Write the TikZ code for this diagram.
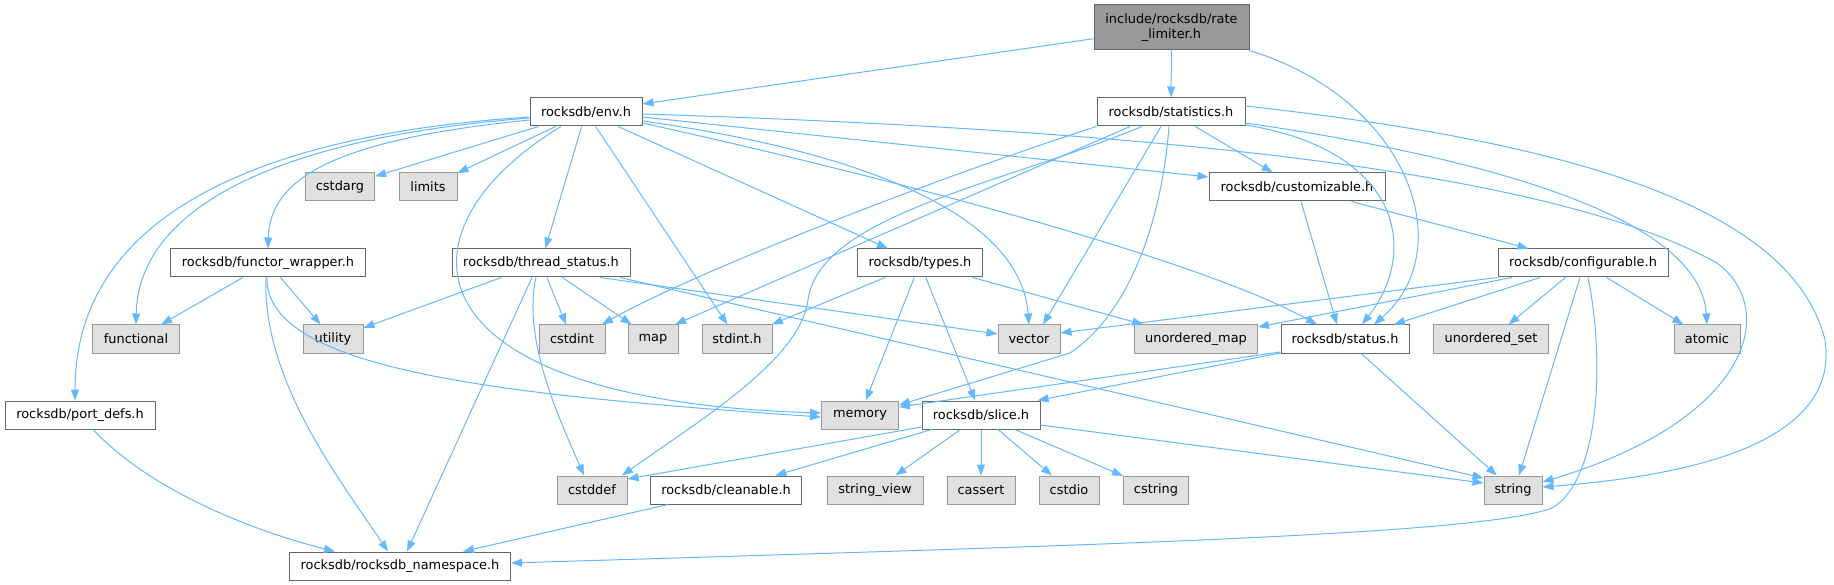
\documentclass[tikz,border=0pt]{standalone}
\usepackage{fontspec}
\setmainfont{DejaVu Sans}
\usetikzlibrary{arrows.meta}
\definecolor{edgec}{HTML}{63B8FF}
\definecolor{bproj}{HTML}{666666}
\definecolor{bsys}{HTML}{999999}
\definecolor{fsys}{HTML}{E0E0E0}
\definecolor{froot}{HTML}{999999}
\tikzset{
  box/.style={rectangle, inner sep=0pt, minimum height=28pt, line width=1pt, font=\fontsize{12.9}{15}\selectfont, text=black},
  proj/.style={box, draw=bproj, fill=white},
  sys/.style={box, draw=bsys, fill=fsys},
  rootbox/.style={box, draw=bproj, fill=froot, minimum height=45pt, align=center},
  e/.style={draw=edgec, line width=1pt, -{Triangle[length=11pt,width=8pt]}}
}
\begin{document}
\begin{tikzpicture}[x=1pt,y=-1pt]
\useasboundingbox (0,0) rectangle (1834,585);
% nodes
\node[rootbox, minimum width=155pt] (rl) at (1171.5,27.5) {include/rocksdb/rate\\\_limiter.h};
\node[proj, minimum width=112pt] (env) at (586,112) {rocksdb/env.h};
\node[proj, minimum width=148pt] (stats) at (1171,112) {rocksdb/statistics.h};
\node[sys, minimum width=69pt] (cstdarg) at (340,187) {cstdarg};
\node[sys, minimum width=58pt] (limits) at (428,187) {limits};
\node[proj, minimum width=176pt] (custom) at (1297,187) {rocksdb/customizable.h};
\node[proj, minimum width=195pt] (functor) at (268,263) {rocksdb/functor\_wrapper.h};
\node[proj, minimum width=178pt] (thread) at (541,263) {rocksdb/thread\_status.h};
\node[proj, minimum width=125pt] (types) at (920,263) {rocksdb/types.h};
\node[proj, minimum width=170pt] (config) at (1583,263) {rocksdb/configurable.h};
\node[sys, minimum width=87pt] (functional) at (136,339) {functional};
\node[sys, minimum width=60pt] (utility) at (333,339) {utility};
\node[sys, minimum width=66pt] (cstdint) at (572,339) {cstdint};
\node[sys, minimum width=50pt] (map) at (653,339) {map};
\node[sys, minimum width=70pt] (stdint) at (737,339) {stdint.h};
\node[sys, minimum width=62pt] (vector) at (1029,339) {vector};
\node[sys, minimum width=123pt] (umap) at (1196,339) {unordered\_map};
\node[proj, minimum width=128pt] (status) at (1345,339) {rocksdb/status.h};
\node[sys, minimum width=115pt] (uset) at (1491,339) {unordered\_set};
\node[sys, minimum width=66pt] (atomic) at (1707,339) {atomic};
\node[proj, minimum width=150pt] (port) at (80,415) {rocksdb/port\_defs.h};
\node[sys, minimum width=77pt] (memory) at (860,415) {memory};
\node[proj, minimum width=118pt] (slice) at (981,415) {rocksdb/slice.h};
\node[sys, minimum width=70pt] (cstddef) at (592,490) {cstddef};
\node[proj, minimum width=151pt] (cleanable) at (726,490) {rocksdb/cleanable.h};
\node[sys, minimum width=96pt] (sview) at (875,490) {string\_view};
\node[sys, minimum width=68pt] (cassert) at (981,490) {cassert};
\node[sys, minimum width=60pt] (cstdio) at (1069,490) {cstdio};
\node[sys, minimum width=65pt] (cstring) at (1156,490) {cstring};
\node[sys, minimum width=58pt] (string) at (1513,490) {string};
\node[proj, minimum width=221pt] (ns) at (400,566) {rocksdb/rocksdb\_namespace.h};
% rate_limiter
\draw[e] (rl) -- (env);
\draw[e] (rl) -- (stats);
\draw[e] (rl.south east) .. controls (1410,100) and (1460,250) .. ([xshift=29pt]status.north);
% env
\draw[e] ([yshift=-5pt]env.west) .. controls (250,135) and (75,220) .. ([xshift=-5pt]port.north);
\draw[e] ([yshift=-6pt]env.west) .. controls (250,140) and (138,220) .. (functional.north);
\draw[e] ([yshift=-8pt]env.west) .. controls (330,140) and (270,180) .. (functor.north);
\draw[e] (env) -- (cstdarg);
\draw[e] (env) -- (limits);
\draw[e] ([xshift=-25pt]env.south) .. controls (390,230) and (400,400) .. ([yshift=2pt]memory.west);
\draw[e] (env) -- (thread);
\draw[e] (env) -- (stdint);
\draw[e] (env) -- (types);
\draw[e] ([yshift=-9pt]env.east) .. controls (850,150) and (1020,210) .. (vector.north);
\draw[e] ([yshift=-11pt]env.east) .. controls (900,180) and (1200,260) .. ([xshift=-28pt]status.north);
\draw[e] ([yshift=-5pt]env.east) -- ([yshift=10pt]custom.west);
\draw[e] ([yshift=-2pt]env.east) .. controls (1150,130) and (1550,170) .. (1717,263) .. controls (1780,310) and (1750,420) .. ([yshift=8pt]string.east);
% statistics
\draw[e] (stats.south west) .. controls (900,190) and (680,280) .. ([xshift=30pt]cstdint.north);
\draw[e] ([xshift=-41pt]stats.south) -- ([xshift=22pt]map.north);
\draw[e] ([xshift=-29pt]stats.south) .. controls (1000,185) and (820,215) .. (808,300) .. controls (800,360) and (700,420) .. ([xshift=30pt]cstddef.north);
\draw[e] ([xshift=-10pt]stats.south) -- ([xshift=14pt]vector.north);
\draw[e] ([xshift=-2pt]stats.south) .. controls (1160,240) and (1120,320) .. (1070,353) -- ([yshift=10pt]memory.east);
\draw[e] (stats) -- (custom);
\draw[e] ([yshift=6pt]stats.east) .. controls (1550,140) and (1790,200) .. (1825,340) .. controls (1840,440) and (1700,475) .. ([yshift=3pt]string.east);
\draw[e] ([yshift=-11pt]stats.east) .. controls (1500,160) and (1700,220) .. (atomic.north);
\draw[e] ([yshift=-13pt]stats.east) .. controls (1400,150) and (1420,250) .. ([xshift=17pt]status.north);
% customizable
\draw[e] ([xshift=4pt]custom.south) -- ([xshift=-8pt]status.north);
\draw[e] (custom) -- (config);
% configurable
\draw[e] (config.south west) -- ([yshift=6pt]vector.east);
\draw[e] ([xshift=-71pt]config.south) -- ([yshift=12pt]umap.east);
\draw[e] ([xshift=-43pt]config.south) -- ([xshift=49pt]status.north);
\draw[e] (config) -- (uset);
\draw[e] ([xshift=-3pt]config.south) -- ([xshift=6pt]string.north);
\draw[e] ([xshift=5pt]config.south) .. controls (1605,360) and (1600,480) .. (1552,508) .. controls (1480,535) and (1100,545) .. ([yshift=3pt]ns.east);
\draw[e] (config) -- (atomic);
% types
\draw[e] (types) -- (stdint);
\draw[e] (types) -- (memory);
\draw[e] (types) -- (slice);
\draw[e] (types) -- (umap);
% thread_status
\draw[e] (thread) -- (utility);
\draw[e] (thread) -- (cstdint);
\draw[e] (thread) -- (map);
\draw[e] ([xshift=-5pt]thread.south) .. controls (522,340) and (560,420) .. ([xshift=-8pt]cstddef.north);
\draw[e] ([xshift=-9pt]thread.south) -- ([xshift=7pt]ns.north);
\draw[e] ([xshift=59pt]thread.south) -- ([yshift=5pt]vector.west);
\draw[e] ([xshift=79pt]thread.south) -- ([yshift=12pt]string.west);
% functor_wrapper
\draw[e] (functor) -- (functional);
\draw[e] (functor) -- (utility);
\draw[e] ([xshift=-1pt]functor.south) .. controls (265,370) and (500,395) .. ([yshift=-2pt]memory.west);
\draw[e] ([xshift=-2pt]functor.south) .. controls (262,380) and (340,480) .. ([xshift=-12pt]ns.north);
% port_defs
\draw[e] ([xshift=13pt]port.south) .. controls (150,490) and (250,530) .. ([xshift=-65pt]ns.north);
% slice
\draw[e] ([yshift=-12pt]slice.west) -- ([yshift=11pt]cstddef.east);
\draw[e] (slice) -- (cleanable);
\draw[e] (slice) -- (sview);
\draw[e] (slice) -- (cassert);
\draw[e] (slice) -- (cstdio);
\draw[e] (slice) -- (cstring);
\draw[e] ([yshift=-10pt]slice.east) -- ([yshift=7pt]string.west);
% cleanable
\draw[e] ([xshift=-58pt]cleanable.south) -- ([xshift=63pt]ns.north);
% status
\draw[e] ([yshift=-13pt]status.west) -- ([yshift=8pt]memory.east);
\draw[e] ([yshift=-14pt]status.west) -- ([xshift=-3pt]slice.north east);
\draw[e] (status) -- (string);
\end{tikzpicture}
\end{document}
